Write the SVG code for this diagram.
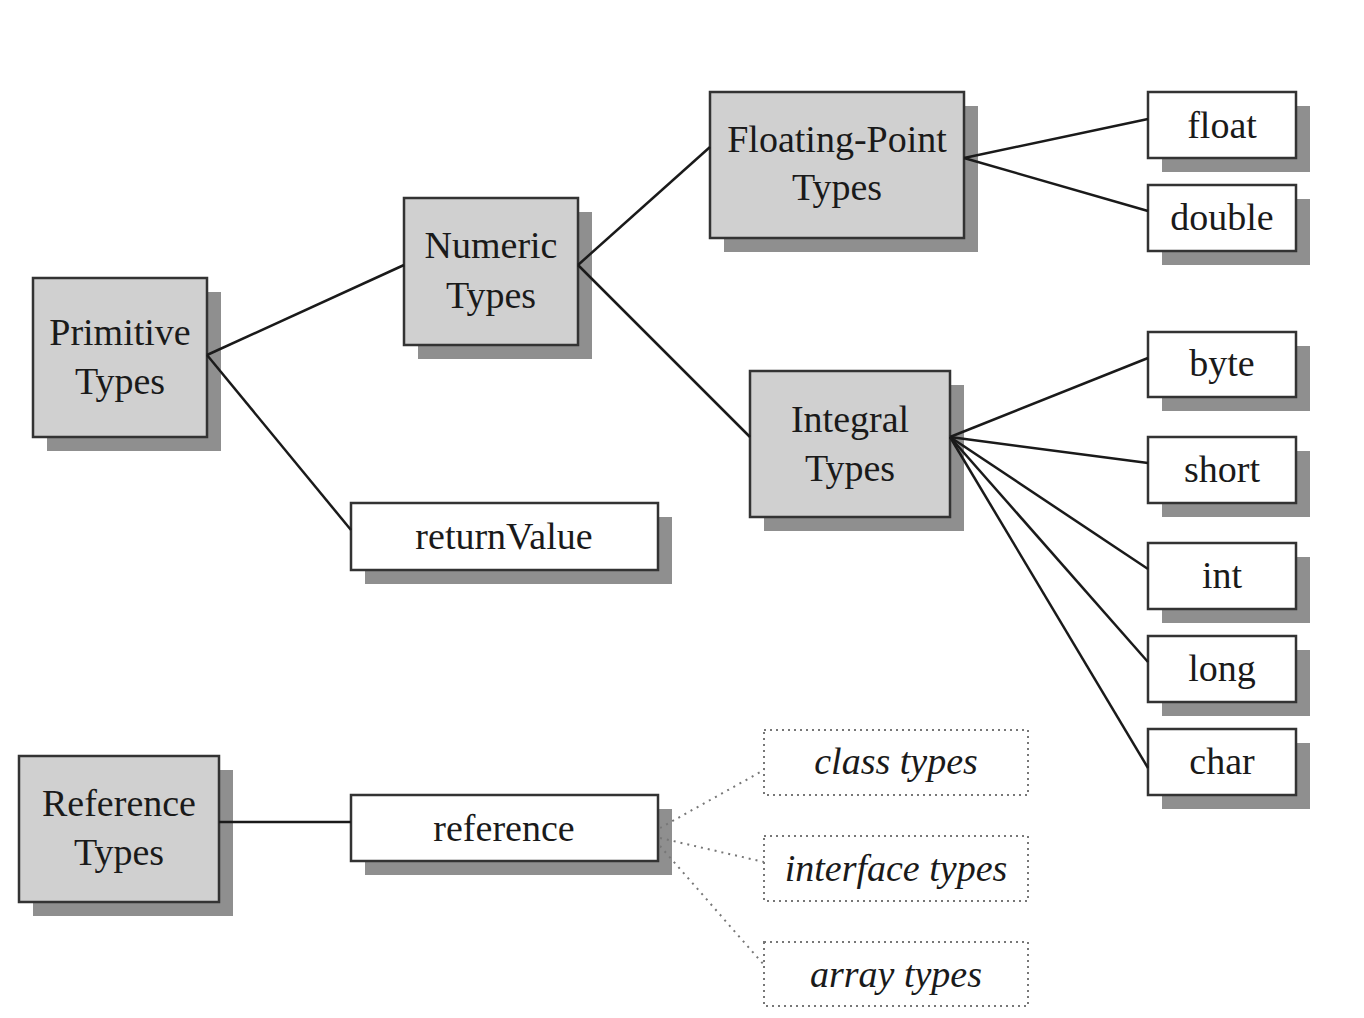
<svg xmlns="http://www.w3.org/2000/svg" width="1364" height="1018" viewBox="0 0 1364 1018">
<style>
.sh{fill:#8f8f8f}
.g{fill:#d0d0d0;stroke:#333;stroke-width:2.5}
.w{fill:#fff;stroke:#333;stroke-width:2.5}
.d{fill:#fff;stroke:#777;stroke-width:2;stroke-dasharray:2 4}
.t{font-family:"Liberation Serif",serif;font-size:38px;fill:#1a1a1a;text-anchor:middle}
.i{font-style:italic}
.c line{stroke:#1a1a1a;stroke-width:2.5}
.c .dl{stroke:#777;stroke-width:2;stroke-dasharray:2 5}
</style>
<rect width="1364" height="1018" fill="#fff"/>
<g id="primitive"><rect class="sh" x="47" y="292" width="174" height="159"/><rect class="g" x="33" y="278" width="174" height="159"/><text class="t" x="120" y="345">Primitive</text><text class="t" x="120" y="394">Types</text></g>
<g id="numeric"><rect class="sh" x="418" y="212" width="174" height="147"/><rect class="g" x="404" y="198" width="174" height="147"/><text class="t" x="491" y="258">Numeric</text><text class="t" x="491" y="308">Types</text></g>
<g id="floating"><rect class="sh" x="724" y="106" width="254" height="146"/><rect class="g" x="710" y="92" width="254" height="146"/><text class="t" x="837" y="152">Floating-Point</text><text class="t" x="837" y="200">Types</text></g>
<g id="integral"><rect class="sh" x="764" y="385" width="200" height="146"/><rect class="g" x="750" y="371" width="200" height="146"/><text class="t" x="850" y="432">Integral</text><text class="t" x="850" y="481">Types</text></g>
<g id="float"><rect class="sh" x="1162" y="106" width="148" height="66"/><rect class="w" x="1148" y="92" width="148" height="66"/><text class="t" x="1222" y="138">float</text></g>
<g id="double"><rect class="sh" x="1162" y="199" width="148" height="66"/><rect class="w" x="1148" y="185" width="148" height="66"/><text class="t" x="1222" y="230">double</text></g>
<g id="byte"><rect class="sh" x="1162" y="346" width="148" height="65"/><rect class="w" x="1148" y="332" width="148" height="65"/><text class="t" x="1222" y="376">byte</text></g>
<g id="short"><rect class="sh" x="1162" y="451" width="148" height="66"/><rect class="w" x="1148" y="437" width="148" height="66"/><text class="t" x="1222" y="482">short</text></g>
<g id="int"><rect class="sh" x="1162" y="557" width="148" height="66"/><rect class="w" x="1148" y="543" width="148" height="66"/><text class="t" x="1222" y="588">int</text></g>
<g id="long"><rect class="sh" x="1162" y="650" width="148" height="66"/><rect class="w" x="1148" y="636" width="148" height="66"/><text class="t" x="1222" y="681">long</text></g>
<g id="char"><rect class="sh" x="1162" y="743" width="148" height="66"/><rect class="w" x="1148" y="729" width="148" height="66"/><text class="t" x="1222" y="774">char</text></g>
<g id="returnValue"><rect class="sh" x="365" y="517" width="307" height="67"/><rect class="w" x="351" y="503" width="307" height="67"/><text class="t" x="504" y="549">returnValue</text></g>
<g id="referenceTypes"><rect class="sh" x="33" y="770" width="200" height="146"/><rect class="g" x="19" y="756" width="200" height="146"/><text class="t" x="119" y="816">Reference</text><text class="t" x="119" y="865">Types</text></g>
<g id="reference"><rect class="sh" x="365" y="809" width="307" height="66"/><rect class="w" x="351" y="795" width="307" height="66"/><text class="t" x="504" y="841">reference</text></g>
<g id="classTypes"><rect class="d" x="764" y="730" width="264" height="65"/><text class="t i" x="896" y="774">class types</text></g>
<g id="interfaceTypes"><rect class="d" x="764" y="836" width="264" height="65"/><text class="t i" x="896" y="881">interface types</text></g>
<g id="arrayTypes"><rect class="d" x="764" y="942" width="264" height="64"/><text class="t i" x="896" y="987">array types</text></g>
<g class="c" id="connectors">
<line x1="207" y1="355" x2="404" y2="265"/>
<line x1="207" y1="355" x2="351" y2="530"/>
<line x1="578" y1="265" x2="710" y2="147"/>
<line x1="578" y1="265" x2="750" y2="437"/>
<line x1="964" y1="158" x2="1148" y2="119"/>
<line x1="964" y1="158" x2="1148" y2="211"/>
<line x1="950" y1="437" x2="1148" y2="358"/>
<line x1="950" y1="437" x2="1148" y2="463"/>
<line x1="950" y1="437" x2="1148" y2="569"/>
<line x1="950" y1="437" x2="1148" y2="662"/>
<line x1="950" y1="437" x2="1148" y2="768"/>
<line x1="219" y1="822" x2="351" y2="822"/>
<line class="dl" x1="660" y1="828" x2="764" y2="770"/>
<line class="dl" x1="660" y1="838" x2="764" y2="862"/>
<line class="dl" x1="660" y1="846" x2="764" y2="965"/>
</g>
</svg>
